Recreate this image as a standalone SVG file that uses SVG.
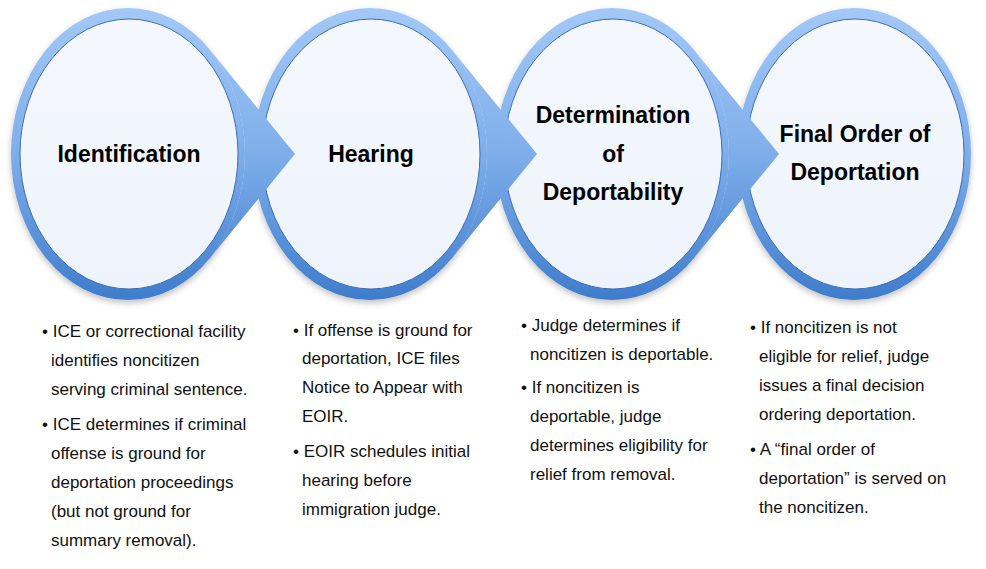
<svg xmlns="http://www.w3.org/2000/svg" width="986" height="569" viewBox="0 0 986 569">
<defs>
<linearGradient id="ring" x1="0" y1="9" x2="0" y2="300" gradientUnits="userSpaceOnUse">
<stop offset="0" stop-color="#a3c8f7"/><stop offset="0.5" stop-color="#7eaeea"/><stop offset="1" stop-color="#3f7ccc"/>
</linearGradient>
<linearGradient id="inner" x1="0" y1="0" x2="0" y2="1">
<stop offset="0" stop-color="#f4f7fd"/><stop offset="1" stop-color="#eef3fb"/>
</linearGradient>
<filter id="sh" x="-20%" y="-20%" width="140%" height="140%">
<feDropShadow dx="0" dy="3" stdDeviation="3" flood-color="#000" flood-opacity="0.25"/>
</filter>
<path id="arrow" d="M210,50 L295,154 L210,258 A117,146 0 0 0 210,50 Z"/>
</defs>
<style>
.ring{fill:url(#ring);filter:url(#sh)}
.in{fill:url(#inner);stroke:#3b6fb3;stroke-width:1}
.arr{fill:url(#ring)}
.t{font-family:"Liberation Sans",sans-serif;font-weight:bold;font-size:23px;fill:#000;text-anchor:middle}
.b{font-family:"Liberation Sans",sans-serif;font-size:17px;fill:#111}
</style>
<g id="node4"><ellipse class="ring" cx="854" cy="154" rx="117" ry="146"/><ellipse class="in" cx="855" cy="154" rx="109" ry="135"/>
<text class="t" x="855" y="142">Final Order of</text><text class="t" x="855" y="180">Deportation</text></g>
<g id="node3"><ellipse class="ring" cx="612" cy="154" rx="117" ry="146"/><ellipse class="in" cx="613" cy="154" rx="109" ry="135"/>
<text class="t" x="613" y="123">Determination</text><text class="t" x="613" y="162">of</text><text class="t" x="613" y="200">Deportability</text></g>
<g id="node2"><ellipse class="ring" cx="370" cy="154" rx="117" ry="146"/><ellipse class="in" cx="371" cy="154" rx="109" ry="135"/>
<text class="t" x="371" y="162">Hearing</text></g>
<g id="node1"><ellipse class="ring" cx="128" cy="154" rx="117" ry="146"/><ellipse class="in" cx="129" cy="154" rx="109" ry="135"/>
<text class="t" x="129" y="162">Identification</text></g>
<g id="connectors">
<use href="#arrow" class="arr"/>
<use href="#arrow" class="arr" x="242"/>
<use href="#arrow" class="arr" x="484"/>
</g>
<g id="list1" class="b">
<text x="42" y="337">• ICE or correctional facility</text>
<text x="51" y="366">identifies noncitizen</text>
<text x="51" y="395">serving criminal sentence.</text>
<text x="42" y="430">• ICE determines if criminal</text>
<text x="51" y="459">offense is ground for</text>
<text x="51" y="488">deportation proceedings</text>
<text x="51" y="517">(but not ground for</text>
<text x="51" y="546">summary removal).</text>
</g>
<g id="list2" class="b">
<text x="293" y="336">• If offense is ground for</text>
<text x="302" y="364">deportation, ICE files</text>
<text x="302" y="393">Notice to Appear with</text>
<text x="302" y="422">EOIR.</text>
<text x="293" y="457">• EOIR schedules initial</text>
<text x="302" y="486">hearing before</text>
<text x="302" y="515">immigration judge.</text>
</g>
<g id="list3" class="b">
<text x="521" y="331">• Judge determines if</text>
<text x="530" y="360">noncitizen is deportable.</text>
<text x="521" y="393">• If noncitizen is</text>
<text x="530" y="422">deportable, judge</text>
<text x="530" y="451">determines eligibility for</text>
<text x="530" y="480">relief from removal.</text>
</g>
<g id="list4" class="b">
<text x="750" y="333">• If noncitizen is not</text>
<text x="759" y="362">eligible for relief, judge</text>
<text x="759" y="391">issues a final decision</text>
<text x="759" y="420">ordering deportation.</text>
<text x="750" y="455">• A “final order of</text>
<text x="759" y="484">deportation” is served on</text>
<text x="759" y="513">the noncitizen.</text>
</g>
</svg>
